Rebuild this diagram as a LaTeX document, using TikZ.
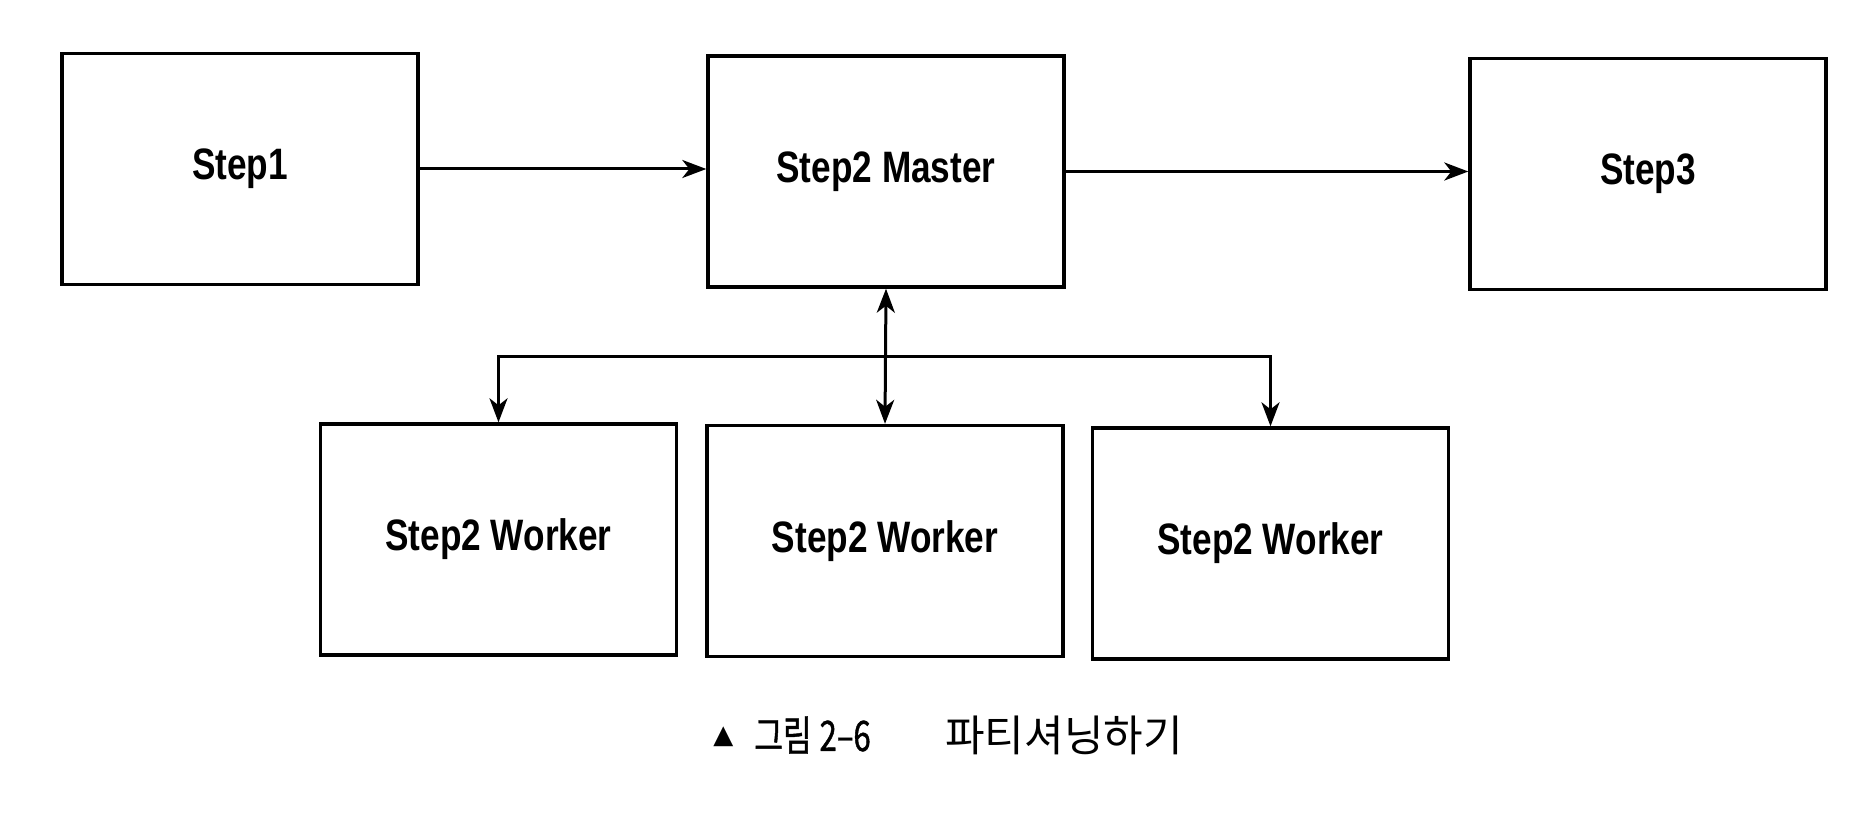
\documentclass[tikz,border=0pt]{standalone}
\usepackage{fontspec}
\usetikzlibrary{arrows.meta}
\newfontfamily\labfont{Liberation Sans}[FakeStretch=0.8]
\newfontfamily\cjk{Noto Sans CJK KR}
\newfontfamily\cjkfig{Noto Sans CJK KR}[FakeStretch=0.74,FakeBold=1]
\newfontfamily\symfont{DejaVu Sans}
\tikzset{
  box/.style={draw, line width=1.7pt, rectangle, minimum width=178pt, minimum height=115.5pt,
    inner sep=0pt, font=\labfont\bfseries\fontsize{22}{24}\selectfont},
  conn/.style={line width=1.5pt, -{Stealth[length=12pt,width=9pt,inset=3.5pt]}},
  conn2/.style={line width=1.5pt, {Stealth[length=12pt,width=9pt,inset=3.5pt]}-{Stealth[length=12pt,width=9pt,inset=3.5pt]}},
  captxt/.style={inner sep=0pt, anchor=west}
}
\begin{document}
\begin{tikzpicture}[x=0.5pt,y=-0.5pt]
\useasboundingbox (0,0) rectangle (1872,818);
\node[box] (s1) at (240,169) {Step1};
\node[box] (m) at (886,171.5) {Step2 Master};
\node[box] (s3) at (1648,174) {Step3};
\node[box] (w1) at (498.5,539.5) {Step2 Worker};
\node[box] (w2) at (885,541) {Step2 Worker};
\node[box] (w3) at (1270.5,543.5) {Step2 Worker};
\coordinate (bus) at (885,356);
\draw[conn] (s1.east) -- (s1.east -| m.west);
\draw[conn] (m.east) -- (m.east -| s3.west);
\draw[conn2] (m.south) -- (w2.north);
\draw[conn] (bus) -| (w1.north);
\draw[conn] (bus) -| (w3.north);
\node[captxt, font=\symfont\fontsize{13}{14}\selectfont] (tri) at (713,737) {▲};
\node[captxt, font=\cjkfig\fontsize{21}{22}\selectfont] (fig) at (754,735) {그림\hspace{4pt}2–6};
\node[captxt, font=\cjk\fontsize{21.5}{23}\selectfont] (title) at (945,735) {파티셔닝하기};
\end{tikzpicture}
\end{document}
